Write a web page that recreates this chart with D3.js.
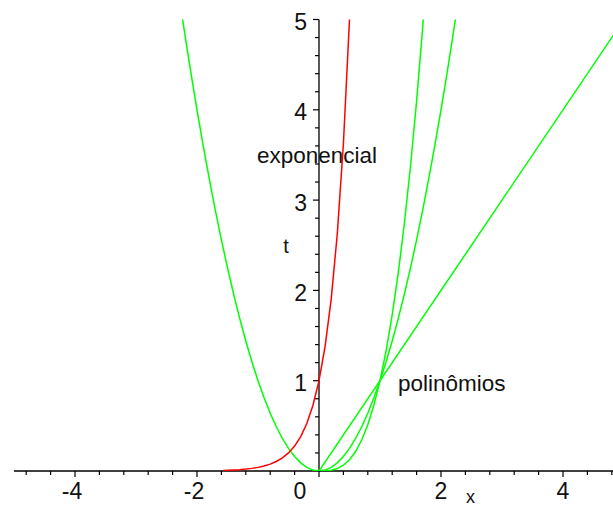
<!DOCTYPE html>
<html>
<head>
<meta charset="utf-8">
<script src="https://cdn.jsdelivr.net/npm/d3@7/dist/d3.min.js"></script>
<style>
  body { margin: 0; background: #fff; }
  svg { display: block; }
  text { font-family: "Liberation Sans", Arial, sans-serif; fill: #111; }
</style>
</head>
<body>
<script>
// curve samples
var quadX = [-2.4, -2.3, -2.2, -2.1, -2.0, -1.9, -1.8, -1.7, -1.6, -1.5, -1.4, -1.3, -1.2, -1.1, -1.0,
  -0.9, -0.8, -0.7, -0.6, -0.5, -0.4, -0.3, -0.2, -0.1, 0, 0.1, 0.2, 0.3, 0.4, 0.5, 0.6, 0.7, 0.8, 0.9,
  1.0, 1.1, 1.2, 1.3, 1.4, 1.5, 1.6, 1.7, 1.8, 1.9, 2.0, 2.1, 2.2, 2.3, 2.4];
var quadY = [5.76, 5.29, 4.84, 4.41, 4.0, 3.61, 3.24, 2.89, 2.56, 2.25, 1.96, 1.69, 1.44, 1.21, 1.0,
  0.81, 0.64, 0.49, 0.36, 0.25, 0.16, 0.09, 0.04, 0.01, 0, 0.01, 0.04, 0.09, 0.16, 0.25, 0.36, 0.49, 0.64, 0.81,
  1.0, 1.21, 1.44, 1.69, 1.96, 2.25, 2.56, 2.89, 3.24, 3.61, 4.0, 4.41, 4.84, 5.29, 5.76];

var cubeX = [0, 0.1, 0.2, 0.3, 0.4, 0.5, 0.6, 0.7, 0.8, 0.9, 1.0, 1.1, 1.2, 1.3, 1.4, 1.5, 1.6, 1.7, 1.8];
var cubeY = [0, 0.001, 0.008, 0.027, 0.064, 0.125, 0.216, 0.343, 0.512, 0.729, 1.0, 1.331, 1.728, 2.197,
  2.744, 3.375, 4.096, 4.913, 5.832];

var linX = [-5, 5];
var linY = [-5, 5];

var expX = [-1.57, -1.5, -1.4, -1.3, -1.2, -1.1, -1.0, -0.9, -0.8, -0.7, -0.6, -0.5, -0.4, -0.3, -0.2, -0.1,
  0, 0.1, 0.2, 0.3, 0.4, 0.5, 0.55];
var expY = [0.0064, 0.008, 0.011, 0.0152, 0.021, 0.029, 0.04, 0.0552, 0.0761, 0.1051, 0.145, 0.2, 0.2759,
  0.3807, 0.5253, 0.7248, 1.0, 1.3797, 1.9037, 2.6265, 3.6239, 5.0, 5.87];

var xMajor = [-4, -2, 0, 2, 4];
var yMajor = [1, 2, 3, 4, 5];

var width = 613, height = 508;

var svg = d3.select('body')
  .append('svg')
  .attr('width', width)
  .attr('height', height);

var x = d3.scaleLinear().domain([-5, 5]).range([14, 624]);
var y = d3.scaleLinear().domain([0, 5]).range([471, 19.5]);

svg.append('defs').append('clipPath')
  .attr('id', 'plotclip')
  .append('rect')
  .attr('x', 0)
  .attr('y', y(5))
  .attr('width', width)
  .attr('height', y(0) - y(5));

// text labels (sit under axes and curves)
svg.append('text')
  .attr('x', 257)
  .attr('y', 163)
  .style('font-size', '22.5px')
  .text('exponencial');

svg.append('text')
  .attr('x', 398)
  .attr('y', 391)
  .style('font-size', '22.5px')
  .text('polinômios');

// x axis
var xMinor = d3.range(-24, 25).map(function (i) { return i * 0.2; })
  .filter(function (v, i) { return i % 2 === 0; });

var xAxisG = svg.append('g')
  .attr('transform', 'translate(0,' + y(0) + ')');

xAxisG.append('line')
  .attr('x1', x(-5)).attr('x2', width)
  .attr('stroke', '#000').attr('stroke-width', 1.3);

xAxisG.selectAll('.xminor')
  .data(xMinor)
  .enter()
  .append('line')
  .attr('class', 'xminor')
  .attr('x1', function (d) { return x(d); })
  .attr('x2', function (d) { return x(d); })
  .attr('y1', 0)
  .attr('y2', function (d) { return xMajor.indexOf(Math.round(d * 10) / 10) >= 0 ? 6 : 4; })
  .attr('stroke', '#000').attr('stroke-width', 1.2);

xAxisG.selectAll('.xlabel')
  .data(xMajor)
  .enter()
  .append('text')
  .attr('class', 'xlabel')
  .attr('x', function (d) { return d === 0 ? x(d) - 19 : x(d) - (d < 0 ? 3 : 0); })
  .attr('y', 28)
  .attr('text-anchor', 'middle')
  .style('font-size', '23px')
  .text(function (d) { return String(d); });

// y axis
var yMinor = d3.range(1, 26).map(function (i) { return i * 0.2; });

var yAxisG = svg.append('g')
  .attr('transform', 'translate(' + x(0) + ',0)');

yAxisG.append('line')
  .attr('y1', y(5)).attr('y2', y(0))
  .attr('stroke', '#000').attr('stroke-width', 1.3);

yAxisG.selectAll('.yminor')
  .data(yMinor)
  .enter()
  .append('line')
  .attr('class', 'yminor')
  .attr('y1', function (d) { return y(d); })
  .attr('y2', function (d) { return y(d); })
  .attr('x1', function (d) { return yMajor.indexOf(Math.round(d * 10) / 10) >= 0 ? -6 : -4; })
  .attr('x2', 0)
  .attr('stroke', '#000').attr('stroke-width', 1.2);

yAxisG.selectAll('.ylabel')
  .data(yMajor)
  .enter()
  .append('text')
  .attr('class', 'ylabel')
  .attr('x', -12)
  .attr('y', function (d) { return y(d) + 10.5; })
  .attr('text-anchor', 'end')
  .style('font-size', '23px')
  .text(function (d) { return String(d); });

svg.append('text')
  .attr('x', 470.5)
  .attr('y', 503)
  .attr('text-anchor', 'middle')
  .style('font-size', '18px')
  .text('x');

svg.append('text')
  .attr('x', 286)
  .attr('y', 253)
  .attr('text-anchor', 'middle')
  .style('font-size', '20px')
  .text('t');

// curves
var line = d3.line()
  .x(function (d) { return x(d[0]); })
  .y(function (d) { return y(d[1]); });

function pairs(xs, ys) {
  return xs.map(function (v, i) { return [v, ys[i]]; });
}

var curves = svg.append('g').attr('clip-path', 'url(#plotclip)');

var greenSeries = [pairs(linX, linY), pairs(quadX, quadY), pairs(cubeX, cubeY)];

curves.selectAll('.poly')
  .data(greenSeries)
  .enter()
  .append('path')
  .attr('class', 'poly')
  .attr('d', line)
  .attr('fill', 'none')
  .attr('stroke', '#00ff00')
  .attr('stroke-width', 1.5);

curves.append('path')
  .datum(pairs(expX, expY))
  .attr('d', line)
  .attr('fill', 'none')
  .attr('stroke', '#ff0000')
  .attr('stroke-width', 1.5);
</script>
</body>
</html>
